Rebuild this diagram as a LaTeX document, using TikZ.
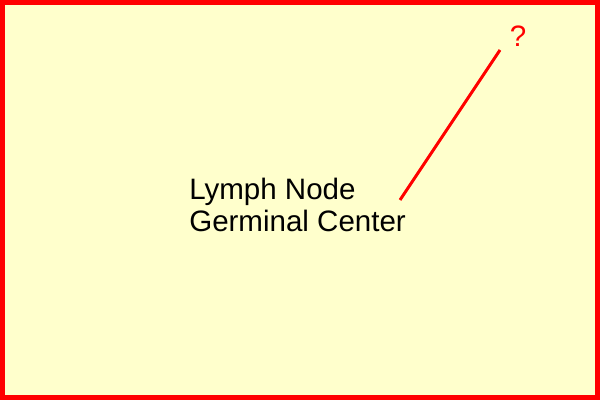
\documentclass[tikz,border=0pt]{standalone}
\usepackage{fontspec}
\setmainfont{Liberation Sans}
\definecolor{paleyellow}{HTML}{FFFFCC}
\tikzset{
    marker/.style = {draw = red, line width = 2.1pt},
    label/.style = {inner sep = 0pt, font = \fontsize{21}{22.8}\selectfont}
}
\begin{document}
\begin{tikzpicture}[scale=0.5]
            \useasboundingbox (0,0) rectangle (30,20);
            \filldraw[
                fill = paleyellow,
                draw = red,
                line width = 3.6pt
            ]
            (0.125,0.125) rectangle (29.875,19.875);
            \node[label, anchor = base west, align = left] (gc) at (9.45,8.4) {Lymph Node\\Germinal Center};
            \coordinate (start) at (20,10);
            \coordinate (end) at (25,17.5);
            \node[label, text = red, anchor = base] (q) at (25.9,17.65) {?};
            \draw[marker] (start) -- (end);
        \end{tikzpicture}
\end{document}
